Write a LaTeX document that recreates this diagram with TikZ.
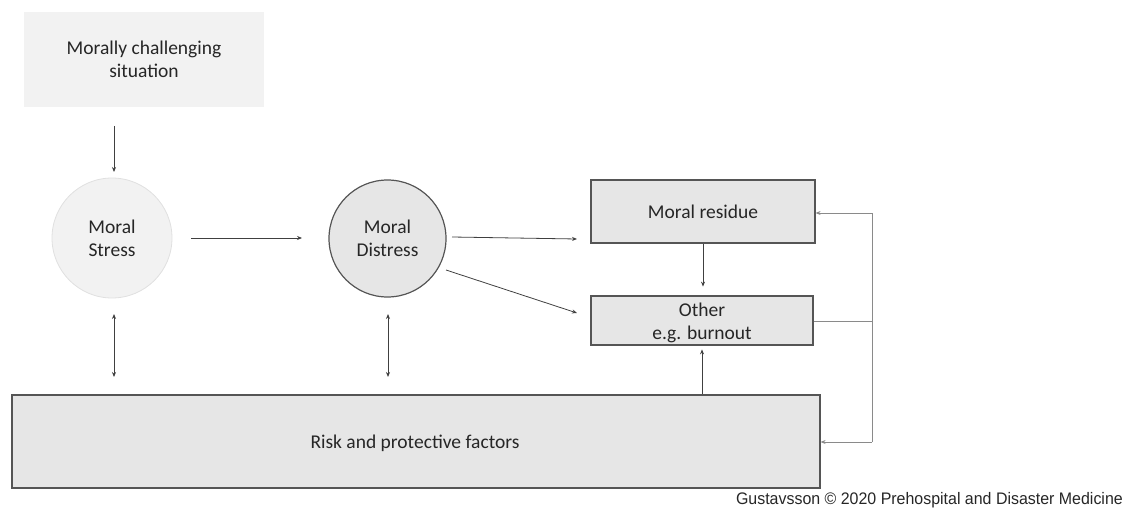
\documentclass[tikz,border=0pt]{standalone}
\usepackage{fontspec}
\setmainfont{Carlito}
\newfontfamily\creditfont{Liberation Sans}
\usetikzlibrary{arrows.meta}
\definecolor{boxfill}{HTML}{E6E6E6}
\definecolor{lightfill}{HTML}{F2F2F2}
\definecolor{edge}{HTML}{555555}
\definecolor{arr}{HTML}{404040}
\definecolor{fb}{HTML}{8A8A8A}
\tikzset{
  x=1pt, y=-1pt,
  txt/.style={font=\fontsize{19.5}{23}\selectfont, text=black!85, align=center},
  gbox/.style={txt, draw=edge, line width=1.2pt, fill=boxfill, inner sep=0pt},
  arrow/.style={draw=arr, line width=0.8pt, -{Stealth[length=5pt,width=4pt]}},
  darrow/.style={draw=arr, line width=0.8pt, {Stealth[length=5pt,width=4pt]}-{Stealth[length=5pt,width=4pt]}},
  fbline/.style={draw=fb, line width=0.8pt},
  fbarrow/.style={draw=fb, line width=0.8pt, -{Stealth[length=5pt,width=4pt]}},
}
\begin{document}
\begin{tikzpicture}
\useasboundingbox (0,0) rectangle (1125,508);
% top box
\node[txt, fill=lightfill, minimum width=240pt, minimum height=95pt, inner sep=0pt] (sit) at (144,59.5) {Morally challenging\\situation};
% circles
\node[txt, circle, fill=lightfill, draw=black!12, line width=0.8pt, minimum size=120pt, inner sep=0pt] (stress) at (112,238) {Moral\\Stress};
\node[txt, circle, fill=boxfill, draw=edge, line width=1.2pt, minimum size=117pt, inner sep=0pt] (distress) at (387.5,238.5) {Moral\\Distress};
% right boxes
\node[gbox, minimum width=224pt, minimum height=63pt] (res) at (703,211.5) {Moral residue};
\node[gbox, minimum width=222pt, minimum height=49pt] (oth) at (702,320.5) {};
\node[txt] (othtext) at (702,323) {Other\\e.g. burnout};
% bottom box
\node[gbox, minimum width=808pt, minimum height=93pt] (risk) at (416,441.5) {};
\node[txt] (risktext) at (415,443) {Risk and protective factors};
% coordinates for arrows
\coordinate (a1s) at (114,126);
\coordinate (a1e) at (114,172);
\coordinate (a2s) at (191,238);
\coordinate (a2e) at (302,238);
\coordinate (a3s) at (452,237);
\coordinate (a3e) at (577,239);
\coordinate (a4s) at (446,270);
\coordinate (a4e) at (577,313);
\coordinate (d1s) at (114,314);
\coordinate (d1e) at (114,377);
\coordinate (d2s) at (388,314);
\coordinate (d2e) at (388,377);
\coordinate (fbtop) at (872,213);
\coordinate (fbmid) at (872,321);
\coordinate (fbbot) at (872,442);
\draw[arrow] (a1s) -- (a1e);
\draw[arrow] (a2s) -- (a2e);
\draw[arrow] (a3s) -- (a3e);
\draw[arrow] (a4s) -- (a4e);
\draw[darrow] (d1s) -- (d1e);
\draw[darrow] (d2s) -- (d2e);
\draw[arrow] (res.south) -- ++(0,43);
\draw[arrow] (risk.north -| oth.south) -- ++(0,-45);
% feedback
\draw[fbline] (oth.east |- fbmid) -- (fbmid);
\draw[fbline] (fbtop) -- (fbbot);
\draw[fbarrow] (fbtop) -- (res.east |- fbtop);
\draw[fbarrow] (fbbot) -- (risk.east |- fbbot);
% credit
\node[anchor=base east, inner sep=0pt, font=\creditfont\fontsize{16.7}{18}\selectfont, text=black!85] (credit) at (1123,504.5) {\scalebox{0.955}[1]{Gustavsson © 2020 Prehospital and Disaster Medicine}};
\end{tikzpicture}
\end{document}
